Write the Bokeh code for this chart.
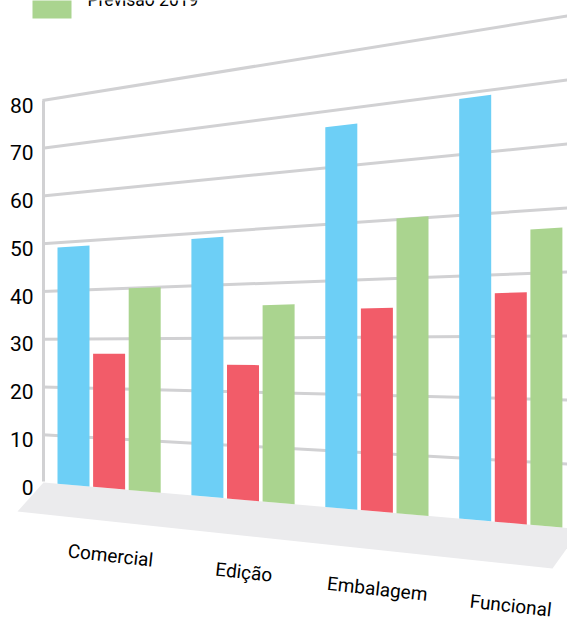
from bokeh.plotting import figure
from bokeh.embed import file_html
from bokeh.resources import INLINE
from bokeh.core.properties import value

categories = ["Comercial", "Edição", "Embalagem", "Funcional"]
series_blue = [49, 49, 67.2, 69.2]
series_red = [27, 25, 35, 37]
series_green = [40, 36, 50.2, 47]
y_ticks = [0, 10, 20, 30, 40, 50, 60, 70, 80]
legend_label = "Previsão 2019"

BLUE, RED, GREEN = "#6DCFF6", "#F25C69", "#AAD48F"
GRID, FLOOR = "#D1D1D3", "#EBEBED"
FONT = value("Roboto")

W, H = 567, 621
X0, X1 = 43.0, 567.0


def base(x):
    return 482.0 + (527.5 - 482.0) * (x - X0) / (X1 - X0)


def scale(x):
    return 4.775 + (6.4 - 4.775) * (x - X0) / (X1 - X0)


def proj(x, v):
    return base(x) - v * scale(x)


p = figure(width=W, height=H, x_range=(0, W), y_range=(H, 0),
           output_backend="svg", toolbar_location=None,
           min_border=0, outline_line_color=None)
p.axis.visible = False
p.grid.visible = False

# floor
p.patch([X0, 567, 567, 552, 17], [base(X0), base(567), 547, 568, 511],
        fill_color=FLOOR, line_color=None)

# value axis and gridlines
p.line([X0, X0], [proj(X0, 0) - 1, proj(X0, 80)], line_color=GRID, line_width=3)
for t in y_ticks[1:]:
    p.line([X0 - 1, X1], [proj(X0, t), proj(X1, t)], line_color=GRID, line_width=3)

# bars
bar_w, bar_pitch, group_pitch, first = 32.0, 35.6, 133.9, 57.0
xs, ys, cols = [], [], []
for s, (vals, col) in enumerate([(series_blue, BLUE), (series_red, RED), (series_green, GREEN)]):
    for g, v in enumerate(vals):
        l = first + g * group_pitch + s * bar_pitch
        r = l + bar_w
        xs.append([l, r, r, l])
        ys.append([proj(l, v), proj(r, v), proj(r, 0), proj(l, 0)])
        cols.append(col)
p.patches(xs, ys, fill_color=cols, line_color=None)

# tick labels
p.text([33] * len(y_ticks), [proj(X0, t) + 4.5 for t in y_ticks],
       text=[str(t) for t in y_ticks], text_font=FONT, text_font_size="21px",
       text_align="right", text_baseline="middle", text_color="#000000")

# category labels
for i, c in enumerate(categories):
    p.text([110 + i * 133.4], [555 + i * 16.7], text=[c], text_font=FONT,
           text_font_size="19px", text_align="center", text_baseline="middle",
           angle=-0.11, text_color="#000000")

# legend remnant
p.quad(left=[32], right=[71], top=[-2], bottom=[18], fill_color=GREEN, line_color=None)
p.text([87], [-1], text=[legend_label], text_font=FONT, text_font_size="17.5px",
       text_align="left", text_baseline="alphabetic", text_color="#000000")

open("out.html", "w").write(file_html(p, INLINE))
